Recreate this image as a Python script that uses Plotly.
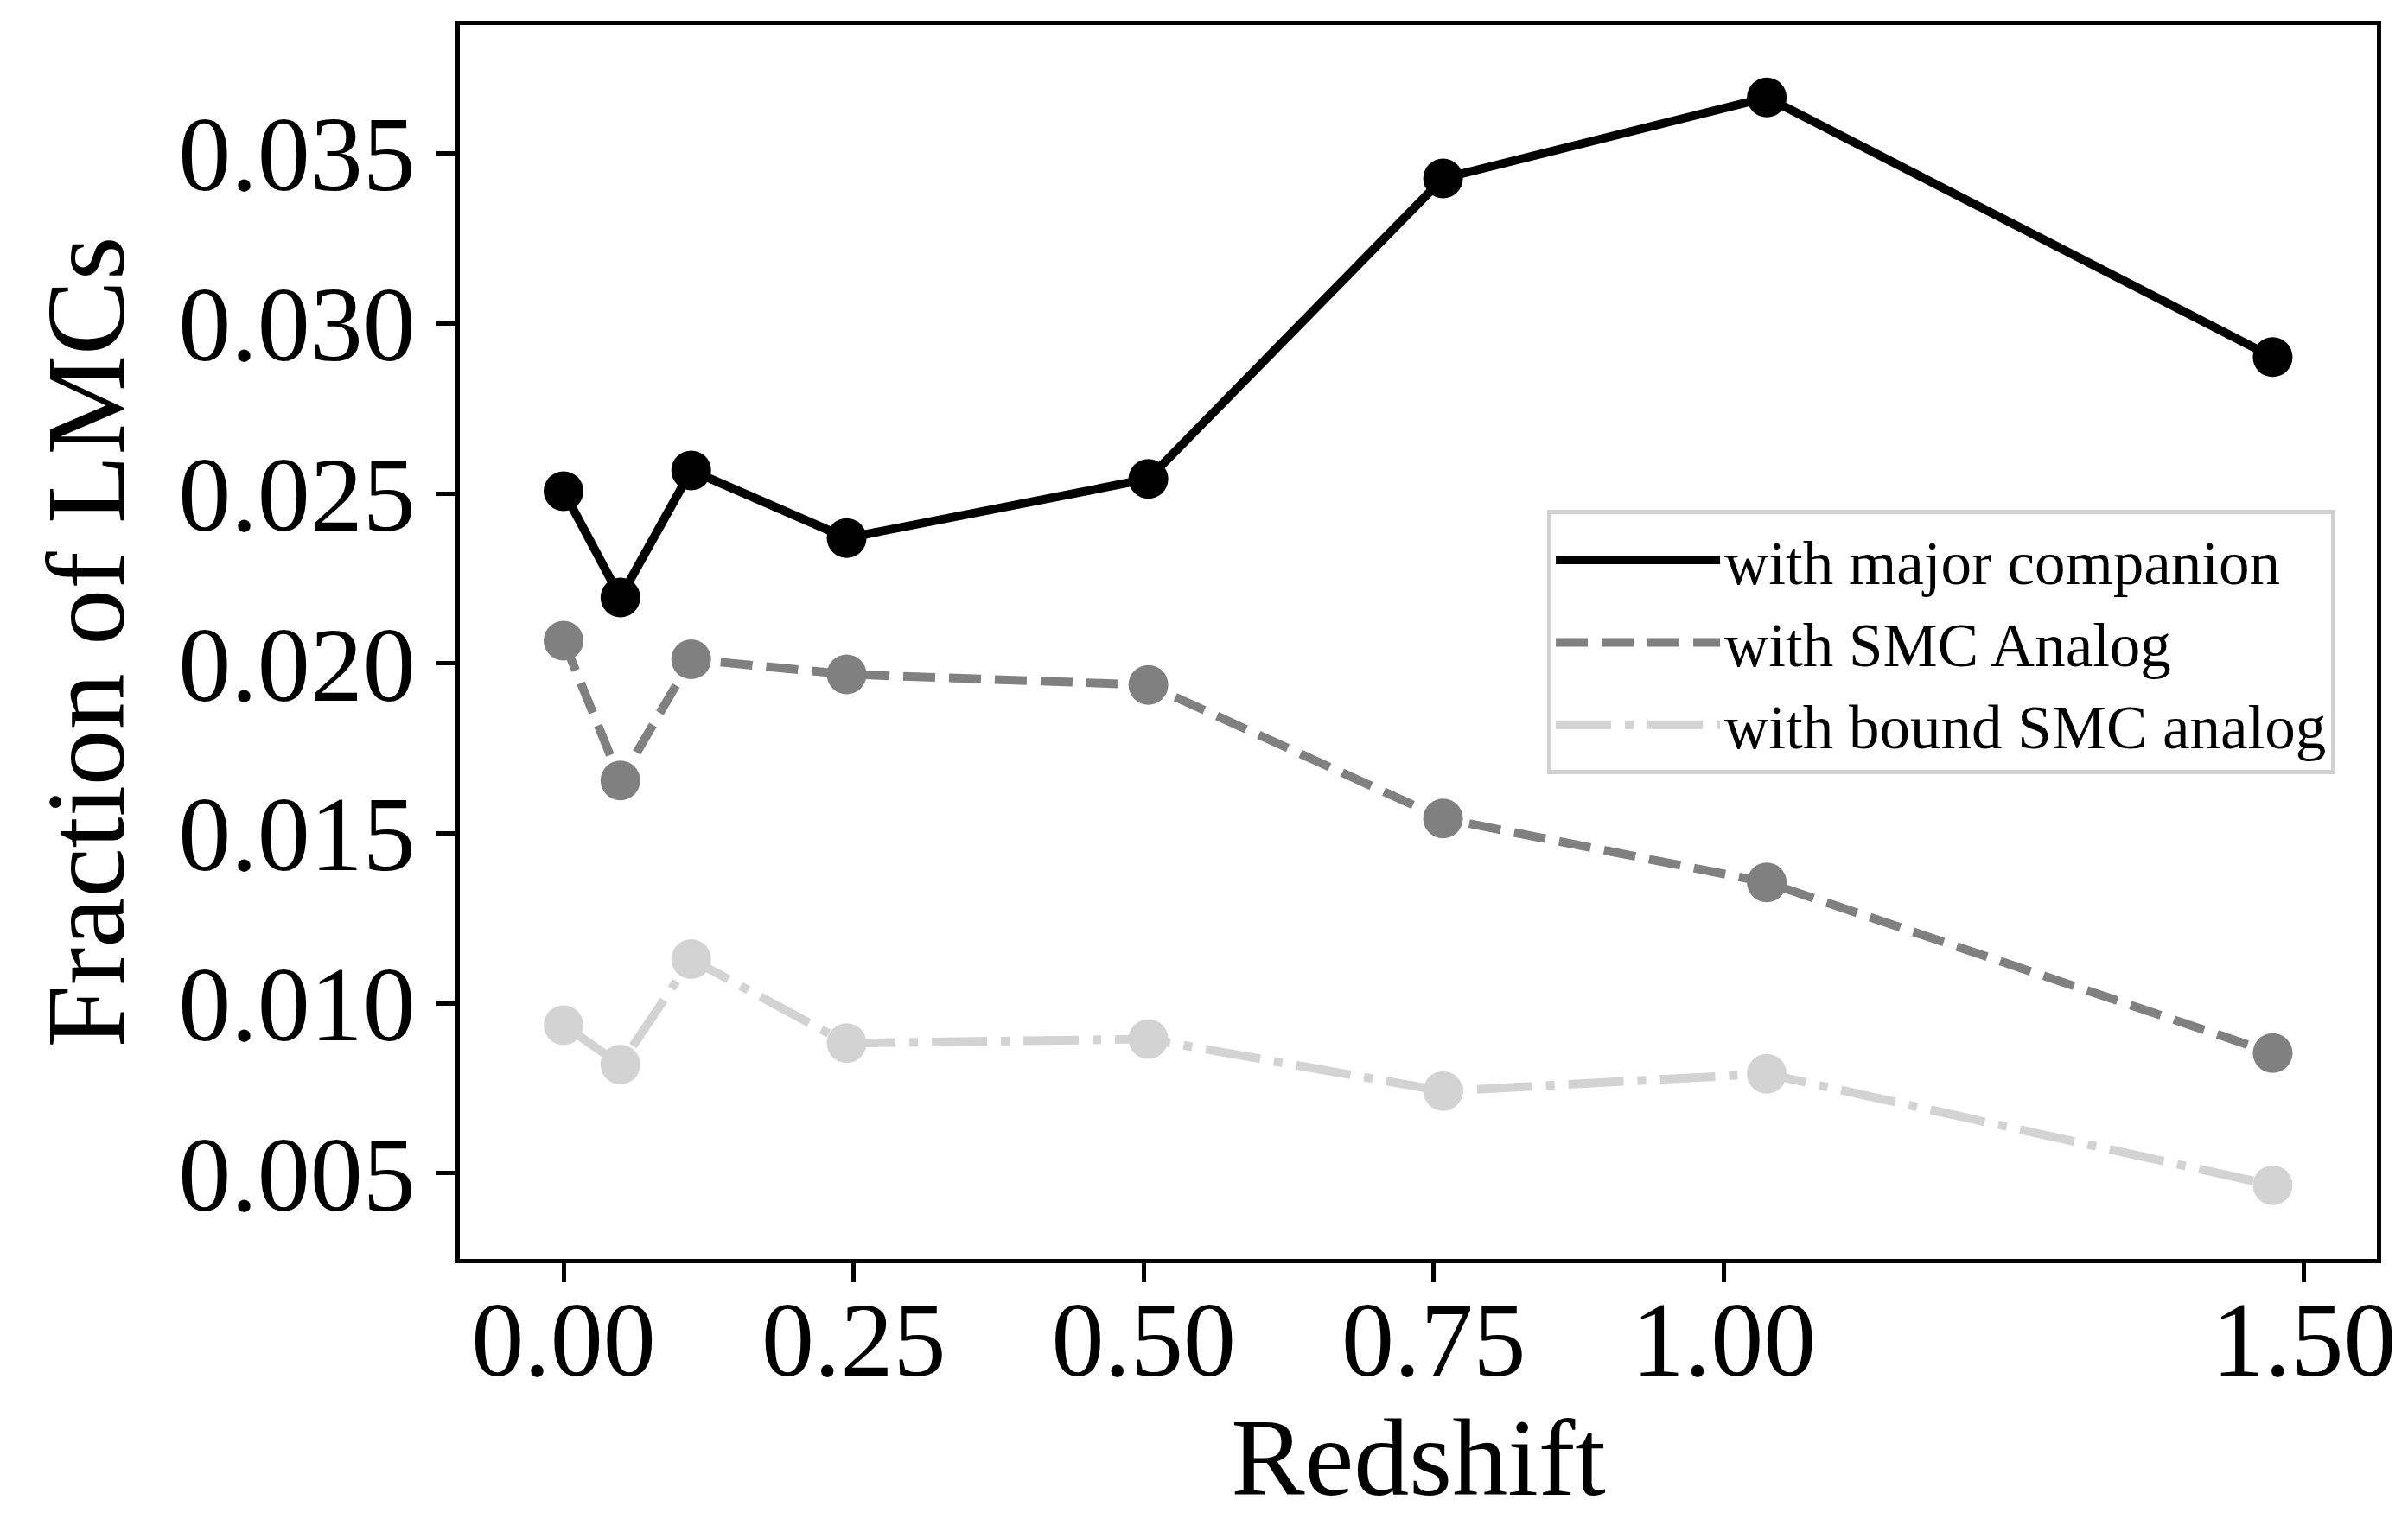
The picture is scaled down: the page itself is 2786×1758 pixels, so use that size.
import plotly.graph_objects as go

# ---- data ----
redshift = [0.0, 0.049, 0.110, 0.244, 0.504, 0.758, 1.037, 1.473]
frac_major = [0.02507, 0.02194, 0.02568, 0.02369, 0.02543, 0.03427, 0.03665, 0.02901]
frac_smc = [0.02067, 0.01656, 0.02012, 0.01968, 0.01937, 0.01544, 0.01356, 0.00854]
frac_bound = [0.00936, 0.00820, 0.01130, 0.00883, 0.00895, 0.00742, 0.00793, 0.00465]

series_names = ["with major companion", "with SMC Analog", "with bound SMC analog"]
x_tickvals = [0.0, 0.25, 0.5, 0.75, 1.0, 1.5]
x_ticktext = ["0.00", "0.25", "0.50", "0.75", "1.00", "1.50"]
y_tickvals = [0.005, 0.010, 0.015, 0.020, 0.025, 0.030, 0.035]
y_ticktext = ["0.005", "0.010", "0.015", "0.020", "0.025", "0.030", "0.035"]

colors = ["#000000", "#808080", "#d3d3d3"]
dashes = ["solid", "37px,16px", "64px,16px,10px,16px"]

FONT = "Liberation Serif, DejaVu Serif, serif"
LW = 10
MS = 46

fig = go.Figure()
for name, ys, col, dash in zip(series_names, [frac_major, frac_smc, frac_bound], colors, dashes):
    fig.add_trace(go.Scatter(x=redshift, y=ys, mode="lines", name=name,
                             line=dict(color=col, width=LW, dash=dash)))
    fig.add_trace(go.Scatter(x=redshift, y=ys, mode="markers", showlegend=False,
                             marker=dict(color=col, size=MS, line=dict(width=0))))

axis_common = dict(showline=True, linecolor="black", linewidth=4.5, mirror=True,
                   ticks="outside", ticklen=22, tickwidth=4.5, tickcolor="black",
                   showgrid=False, zeroline=False, automargin=False,
                   tickfont=dict(family=FONT, size=122, color="black"))

fig.update_layout(
    width=2786, height=1758,
    margin=dict(l=532, r=36, t=29, b=301),
    paper_bgcolor="white", plot_bgcolor="white",
    font=dict(family=FONT, color="black"),
    xaxis=dict(range=[-0.0894, 1.5628], tickvals=x_tickvals, ticktext=x_ticktext,
               ticklabelstandoff=-38,
               title=dict(text="Redshift", font=dict(family=FONT, size=128), standoff=62),
               **axis_common),
    yaxis=dict(range=[0.002483, 0.03878], tickvals=y_tickvals, ticktext=y_ticktext,
               title=dict(text="Fraction of LMCs", font=dict(family=FONT, size=130), standoff=20),
               **axis_common),
    legend=dict(x=0.7728, y=0.4997, xanchor="center", yanchor="middle",
                bgcolor="rgba(255,255,255,0.8)", bordercolor="#d0d0d0", borderwidth=5,
                font=dict(family=FONT, size=71, color="black"),
                itemwidth=190, tracegroupgap=0),
    showlegend=True,
)

fig.write_html("out.html")
